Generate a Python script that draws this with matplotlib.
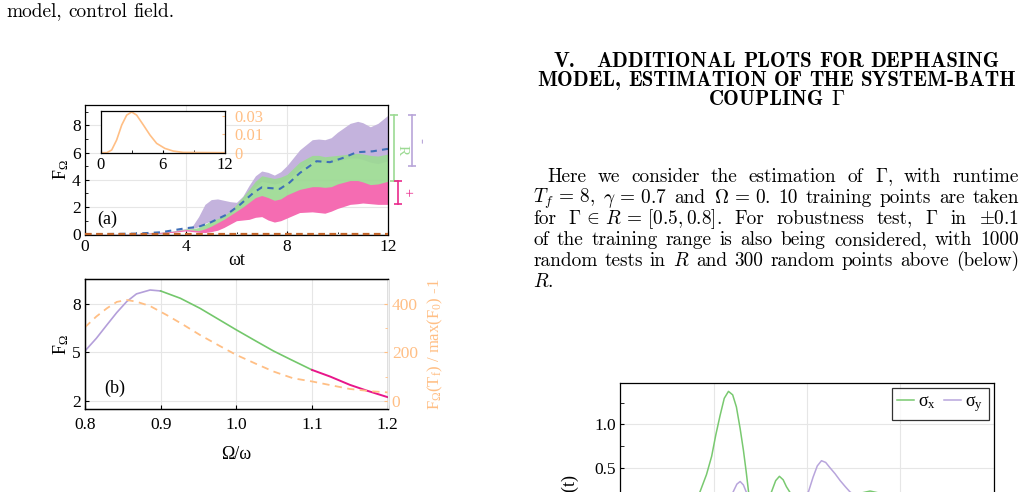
import matplotlib
matplotlib.use('Agg')
import matplotlib.pyplot as plt
from matplotlib.ticker import MultipleLocator, FixedLocator, NullFormatter

plt.rcParams['font.family'] = ['Liberation Serif', 'DejaVu Serif']
plt.rcParams['mathtext.fontset'] = 'custom'
plt.rcParams['mathtext.rm'] = 'Liberation Serif'
plt.rcParams['mathtext.it'] = 'Liberation Serif:italic'
plt.rcParams['mathtext.bf'] = 'Liberation Serif:bold'
plt.rcParams['axes.unicode_minus'] = False
plt.rcParams['axes.linewidth'] = 0.9

W, H, DPI = 1028, 492, 100

# ---- panel (a): F_Omega(t) bands, envelopes
t_a = [0, 1, 2, 3, 3.5, 4.0, 4.25, 4.5, 4.75, 5.0, 5.25, 5.5, 5.75, 6.0, 6.25, 6.5, 6.75,
       7.0, 7.25, 7.5, 7.75, 8.0, 8.5, 9.0, 9.25, 9.5, 9.75, 10.0, 10.5, 10.8, 11.0, 11.3,
       11.6, 12.0]
minus_top = [0, 0.01, 0.05, 0.15, 0.25, 0.42, 0.6, 1.3, 2.2, 2.55, 2.6, 2.5, 2.4, 2.35,
             2.8, 3.6, 4.3, 4.65, 4.55, 4.35, 4.6, 5.05, 6.2, 6.95, 7.0, 6.95, 7.1, 7.5,
             8.15, 8.3, 8.2, 7.9, 8.15, 8.75]
minus_low = [0, 0.01, 0.04, 0.12, 0.2, 0.38, 0.42, 0.55, 0.8, 1.0, 1.1, 1.2, 1.5, 1.9,
             2.4, 3.0, 3.5, 3.9, 3.8, 3.7, 3.8, 4.0, 4.8, 5.4, 5.4, 5.3, 5.3, 5.4, 5.6,
             5.6, 5.5, 5.3, 5.2, 5.4]
in_top = [0, 0.01, 0.05, 0.14, 0.22, 0.4, 0.42, 0.5, 0.75, 1.0, 1.15, 1.35, 1.7, 2.2,
          2.75, 3.3, 3.9, 4.3, 4.2, 4.1, 4.2, 4.4, 5.3, 5.8, 5.8, 5.7, 5.75, 5.8, 5.9,
          5.95, 5.9, 5.8, 5.75, 5.9]
in_low = [0, 0.01, 0.03, 0.1, 0.18, 0.33, 0.3, 0.25, 0.35, 0.45, 0.7, 0.95, 1.2, 1.5,
          1.8, 2.1, 2.4, 2.6, 2.5, 2.4, 2.45, 2.55, 3.1, 3.4, 3.35, 3.3, 3.4, 3.5, 3.6,
          3.6, 3.55, 3.45, 3.45, 3.6]
plus_top = [0, 0.01, 0.04, 0.14, 0.22, 0.35, 0.32, 0.27, 0.4, 0.6, 0.85, 1.1, 1.4, 1.7,
            2.0, 2.35, 2.7, 2.85, 2.7, 2.5, 2.6, 2.9, 3.3, 3.5, 3.5, 3.45, 3.5, 3.7,
            3.95, 3.95, 3.85, 3.65, 3.7, 3.9]
plus_low = [0, 0, 0.02, 0.08, 0.15, 0.25, 0.2, 0.15, 0.13, 0.2, 0.3, 0.5, 0.75, 1.0,
            1.05, 1.1, 1.25, 1.3, 1.05, 0.9, 1.0, 1.2, 1.6, 1.65, 1.6, 1.55, 1.7, 1.9,
            2.2, 2.25, 2.3, 2.25, 2.2, 2.2]
t_mean = [0, 2, 3, 4.0, 4.5, 5.0, 5.61, 6.14, 6.67, 7.0, 7.3, 7.72, 8.1, 8.51, 9.17, 9.7,
          10.2, 10.76, 11.4, 12.0]
F_mean = [0.0, 0.05, 0.15, 0.45, 0.55, 0.9, 1.45, 2.18, 3.05, 3.45, 3.4, 3.34, 3.8, 4.51,
          5.37, 5.3, 5.6, 6.03, 6.1, 6.28]
t_zero = [0, 12]
F_zero = [0, 0]
bar_x = [12.25, 12.41, 12.96]
bar_lo = [3.95, 2.24, 5.05]
bar_hi = [8.75, 3.95, 8.8]
bar_text = ['R', '+', '-']
bar_text_x = [12.57, 12.74, 13.27]
bar_text_y = [6.2, 3.1, 6.9]

# inset: control pulse
t_in = [0, 0.58, 1.06, 1.54, 2.03, 2.51, 2.99, 3.47, 4.12, 4.76, 5.4, 6.2, 7.0, 7.97, 12]
u_in = [0, 0, 0.0018, 0.0086, 0.0187, 0.0254, 0.0275, 0.0254, 0.0187, 0.0119, 0.0063,
        0.0029, 0.0011, 0.0002, 0]

# ---- panel (b): final F vs Omega/omega
om_minus = [0.8, 0.815, 0.829, 0.842, 0.855, 0.868, 0.886, 0.9]
F_minus = [5.08, 5.86, 6.69, 7.45, 8.12, 8.6, 8.84, 8.78]
om_in = [0.9, 0.926, 0.952, 0.978, 1.0, 1.027, 1.049, 1.071, 1.1]
F_in = [8.78, 8.33, 7.71, 6.99, 6.38, 5.66, 5.08, 4.57, 3.91]
om_plus = [1.1, 1.124, 1.15, 1.172, 1.2]
F_plus = [3.91, 3.5, 2.99, 2.64, 2.23]
om_ratio = [0.8, 0.815, 0.829, 0.842, 0.855, 0.868, 0.886, 0.908, 0.93, 0.952, 0.978, 1.0,
            1.027, 1.049, 1.075, 1.1, 1.124, 1.15, 1.181, 1.2]
ratio = [303, 347, 381, 407, 415, 408, 390, 353, 313, 271, 226, 189, 151, 121, 93, 80, 65,
         49, 39, 35]

# ---- lower right: control components
t_sx = [1.3, 1.6, 1.71, 1.85, 1.96, 2.05, 2.14, 2.23, 2.32, 2.41, 2.49, 2.57, 2.64, 2.70,
        2.75, 2.9, 3.1, 3.24, 3.33, 3.41, 3.49, 3.56, 3.63, 3.8, 4.2, 4.8, 5.1, 5.35, 5.6,
        5.9, 6.5, 7.2, 8.0]
sx = [0.0, 0.12, 0.22, 0.42, 0.63, 0.88, 1.1, 1.3, 1.38, 1.34, 1.2, 0.95, 0.7, 0.45,
      0.22, 0.0, 0.1, 0.22, 0.35, 0.40, 0.36, 0.28, 0.22, 0.1, 0.0, 0.1, 0.2, 0.23, 0.2,
      0.12, 0.05, 0.0, 0.0]
t_sy = [2.3, 2.42, 2.5, 2.57, 2.64, 2.7, 3.0, 3.6, 4.03, 4.13, 4.22, 4.31, 4.4, 4.49, 4.6,
        4.71, 4.82, 4.92, 5.2, 6.0, 8.0]
sy = [0.1, 0.22, 0.31, 0.34, 0.30, 0.22, 0.0, 0.05, 0.22, 0.39, 0.52, 0.58, 0.56, 0.5, 0.43,
      0.35, 0.28, 0.22, 0.12, 0.0, 0.0]

PURPLE = '#c4b3dd'
GREEN = '#9cda93'
PINK = '#f56cb2'
ORANGE = '#ffbf85'
GRID = '#e6e6e6'
TICK = 12.5
LAB = 13


def px_axes(l, t, r, b):
    return [l / W, 1 - b / H, (r - l) / W, (b - t) / H]


def style(ax):
    ax.set_axisbelow(True)
    ax.grid(True, color=GRID, lw=0.8)
    ax.tick_params(which='both', direction='in', labelsize=TICK, pad=3)
    ax.tick_params(which='major', length=3)
    ax.tick_params(which='minor', length=2)


fig = plt.figure(figsize=(W / DPI, H / DPI), dpi=DPI)

# panel (a)
ax = fig.add_axes(px_axes(85, 105, 388, 235))
style(ax)
ax.fill_between(t_a, minus_low, minus_top, color=PURPLE, lw=0)
ax.fill_between(t_a, in_low, in_top, color=GREEN, lw=0, alpha=0.92)
ax.fill_between(t_a, plus_low, plus_top, color=PINK, lw=0)
ax.plot(t_mean, F_mean, color='#3f6fb8', lw=1.5, ls=(0, (3, 2.5)))
ax.plot(t_zero, F_zero, color='#c2652a', lw=1.6, ls=(0, (3, 2)), clip_on=False, zorder=5)
ax.set_xlim(0, 12)
ax.set_ylim(-0.05, 9.5)
ax.xaxis.set_major_locator(FixedLocator([0, 4, 8, 12]))
ax.xaxis.set_minor_locator(MultipleLocator(2))
ax.yaxis.set_major_locator(MultipleLocator(2))
ax.yaxis.set_minor_locator(MultipleLocator(1))
ax.set_xlabel('ωt', fontsize=LAB, labelpad=-2)
ax.set_ylabel('$\\mathregular{F_Ω}$', fontsize=LAB, labelpad=1)
ax.text(0.5, 0.75, '(a)', fontsize=LAB)
bar_col = [GREEN, '#ea2a8c', '#b9a6d9']
for x, lo, hi, c in zip(bar_x, bar_lo, bar_hi, bar_col):
    ax.plot([x, x], [lo, hi], color=c, lw=1.2, clip_on=False)
    ax.plot([x, x], [lo, hi], color=c, ls='none', marker='_', ms=6, mew=1.2, clip_on=False)
for s, x, y, c in zip(bar_text, bar_text_x, bar_text_y, bar_col):
    ax.text(x, y, s, color=c, fontsize=11, rotation=-90, ha='center', va='center',
            clip_on=False)

# inset
ins = fig.add_axes(px_axes(100.7, 110.7, 225, 152.7))
ins.plot(t_in, u_in, color=ORANGE, lw=1.2)
ins.set_xlim(0, 12)
ins.set_ylim(0, 0.02838)
ins.xaxis.set_major_locator(FixedLocator([0, 6, 12]))
ins.xaxis.set_minor_locator(FixedLocator([3, 9]))
ins.yaxis.tick_right()
ins.set_yticks([0, 0.0125, 0.025], ['0', '0.01', '0.03'])
ins.tick_params(which='both', direction='in', labelsize=12, pad=2, length=2)
ins.tick_params(axis='x', pad=3)
ins.tick_params(axis='y', labelcolor=ORANGE, colors=ORANGE, pad=7)

# panel (b)
bx = fig.add_axes(px_axes(85, 279.3, 387.7, 409))
style(bx)
bx.plot(om_minus, F_minus, color='#b49fda', lw=1.2)
bx.plot(om_in, F_in, color='#73c76b', lw=1.2)
bx.plot(om_plus, F_plus, color='#e8168a', lw=1.4)
bx.set_xlim(0.8, 1.2)
bx.set_ylim(1.5, 9.5)
bx.xaxis.set_major_locator(MultipleLocator(0.1))
bx.yaxis.set_major_locator(FixedLocator([2, 5, 8]))
bx.tick_params(axis='x', pad=6)
bx.set_xlabel('Ω/ω', fontsize=LAB, labelpad=9)
bx.set_ylabel('$\\mathregular{F_Ω}$', fontsize=LAB, labelpad=1)
bx.text(0.826, 2.5, '(b)', fontsize=LAB)
tw = bx.twinx()
tw.plot(om_ratio, ratio, color=ORANGE, lw=1.3, ls=(0, (4, 3)))
tw.set_ylim(-33.3, 500)
tw.yaxis.set_major_locator(FixedLocator([0, 200, 400]))
tw.yaxis.set_minor_locator(FixedLocator([100, 300]))
tw.tick_params(which='both', direction='in', labelsize=TICK, colors=ORANGE, pad=3)
tw.tick_params(which='major', length=3)
tw.tick_params(which='minor', length=2)
tw.spines['right'].set_color('#f2f2f2')
tw.set_ylabel('F$_{\\mathregular{Ω}}$(T$_{\\mathregular{f}}$) / max(F$_{\\mathregular{0}}$) -1',
              color=ORANGE, fontsize=12, labelpad=6)

# lower right panel
cx = fig.add_axes(px_axes(620, 382.7, 994, 615))
style(cx)
cx.plot(t_sx, sx, color='#79c970', lw=1.1, label='$\\mathregular{σ_x}$')
cx.plot(t_sy, sy, color='#b8a5dc', lw=1.1, label='$\\mathregular{σ_y}$')
cx.set_xlim(0, 8)
cx.set_ylim(-1.2, 1.48)
cx.xaxis.set_major_locator(MultipleLocator(2))
cx.xaxis.set_major_formatter(NullFormatter())
cx.yaxis.set_major_locator(FixedLocator([0.5, 1.0]))
cx.yaxis.set_minor_locator(FixedLocator([0.75, 1.25]))
cx.tick_params(which='minor', length=3)
leg = cx.legend(loc='upper right', ncol=2, fontsize=13, frameon=True, fancybox=False,
                handlelength=0.9, handletextpad=0.25, columnspacing=0.45,
                borderpad=0.3, borderaxespad=0.3)
leg.get_frame().set_edgecolor('black')
leg.get_frame().set_linewidth(0.9)
fig.text(570 / W, 1 - 474 / H, 'u(t)', rotation=90, ha='center', va='top', fontsize=LAB)

# ---- page text
renderer = fig.canvas.get_renderer()


def make(tokens, size, family):
    arts = [fig.text(0, 0, tok, fontsize=size, family=family, math_fontfamily='cm',
                     ha='left', va='baseline') for tok in tokens]
    widths = [a.get_window_extent(renderer).width for a in arts]
    return arts, widths


def place(arts, widths, x, y, gaps):
    for a, w, g in zip(arts, widths, gaps + [0]):
        a.set_position((x / W, 1 - y / H))
        x += w + g


def natural(tokens, size, family):
    arts, widths = make(tokens, size, family)
    em = size * DPI / 72
    total = sum(widths) + (len(tokens) - 1) * 0.333 * em
    for a in arts:
        a.remove()
    return total


head = [['V.', 'ADDITIONAL', 'PLOTS', 'FOR', 'DEPHASING'],
        ['MODEL,', 'ESTIMATION', 'OF', 'THE', 'SYSTEM-BATH'],
        ['COUPLING', '$\\Gamma$']]
head_y = [66.7, 85.7, 105.0]
head_w = [[3, 1, 1, 1], None, None]

hsize = 12.6
hsize = hsize * 480 / natural(head[1], hsize, 'cmb10')
hem = hsize * DPI / 72
cx0 = 777
for toks, y, wts in zip(head, head_y, head_w):
    wts = wts or [1] * (len(toks) - 1)
    arts, widths = make(toks, hsize, 'cmb10')
    gaps = [k * 0.333 * hem for k in wts]
    total = sum(widths) + sum(gaps)
    place(arts, widths, cx0 - total / 2, y, gaps)

body = [['Here', 'we', 'consider', 'the', 'estimation', 'of', '$\\Gamma$,', 'with', 'runtime'],
        ['$T_f\\,=\\,8$,', '$\\gamma\\,=\\,0.7$', 'and', '$\\Omega\\,=\\,0$.', '10', 'training',
         'points', 'are', 'taken'],
        ['for', '$\\Gamma\\,\\in\\, R\\,=\\,[0.5,0.8]$.', 'For', 'robustness', 'test,', '$\\Gamma$',
         'in', '$\\pm0.1$'],
        ['of', 'the', 'training', 'range', 'is', 'also', 'being', 'considered,', 'with', '1000'],
        ['random', 'tests', 'in', '$R$', 'and', '300', 'random', 'points', 'above', '(below)'],
        ['$R$.']]
body_y = [181.7, 202.7, 223.7, 244.7, 265.7, 286.7]
body_x0 = [547, 533, 533, 533, 533, 533]
right = 1019

size = 12.6
size = size * 472 / natural(body[3], size, 'cmr10')
em = size * DPI / 72
for k, (toks, y, x0) in enumerate(zip(body, body_y, body_x0)):
    arts, widths = make(toks, size, 'cmr10')
    n = len(toks) - 1
    if k < len(body) - 1 and n > 0:
        g = (right - x0 - sum(widths)) / n
    else:
        g = 0.333 * em
    place(arts, widths, x0, y, [g] * n)

arts, widths = make(['model,', 'control', 'field.'], size, 'cmr10')
place(arts, widths, 6, 16.7, [0.333 * em] * 2)

fig.savefig('out.png', dpi=DPI)
